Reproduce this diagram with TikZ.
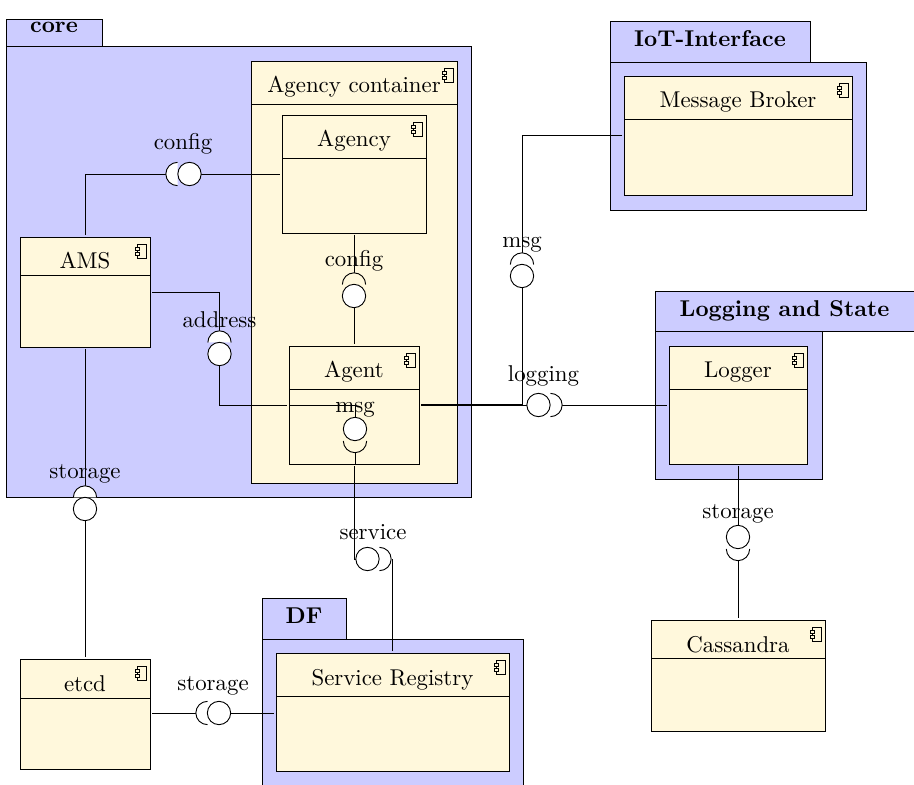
\documentclass[tikz,border=0pt]{standalone}
\definecolor{pkgfill}{HTML}{CCCCFF}
\definecolor{compfill}{HTML}{FFF8DC}
\tikzset{
  x=0.4375pt,y=-0.4375pt,
  boxbase/.style={draw,rectangle,inner sep=0pt,line width=0.4pt},
  pkgbox/.style={boxbase,fill=pkgfill,outer sep=0pt},
  compbox/.style={boxbase,fill=compfill,outer sep=0.875pt},
  sock/.style={circle,inner sep=0pt,minimum size=10.2pt,outer sep=0pt},
  lbl/.style={anchor=base,inner sep=0pt,font=\normalsize},
  tabtext/.style={anchor=base,inner sep=0pt,font=\bfseries},
  wire/.style={line width=0.4pt}
}
% box: style, name, x1, y1, x2, y2
\newcommand{\bx}[6]{%
  \pgfmathsetmacro{\bxw}{(#5-#3)*0.4375}%
  \pgfmathsetmacro{\bxh}{(#6-#4)*0.4375}%
  \node[#1,minimum width=\bxw pt,minimum height=\bxh pt] (#2) at ({(#3+#5)/2},{(#4+#6)/2}) {};%
}
% component: name, x1, y1, x2, y2, divider y, title
\newcommand{\comp}[7]{%
  \bx{compbox}{#1}{#2}{#3}{#4}{#5}%
  \draw[wire] (#2,#6) -- (#4,#6);%
  \node[lbl] (#1t) at ({(#2+#4)/2},#3+32) {#7};%
  \pgfmathsetmacro{\ix}{#4}\pgfmathsetmacro{\iy}{#3}%
  \draw[wire,fill=compfill] (\ix-13,\iy+7) rectangle (\ix-3.5,\iy+21);%
  \draw[wire,fill=compfill] (\ix-15,\iy+10) rectangle (\ix-11,\iy+13.5);%
  \draw[wire,fill=compfill] (\ix-15,\iy+15) rectangle (\ix-11,\iy+18.5);%
}
% socket: node name, start angle, end angle, fill
\newcommand{\sockarc}[4]{%
  \fill[#4] (#1.#2) arc (#2:#3:5.1pt) -- cycle;%
  \draw[wire] (#1.#2) arc (#2:#3:5.1pt);%
}
\begin{document}
\begin{tikzpicture}
\useasboundingbox (0,0) rectangle (914,785);
\clip (0,0) rectangle (914,785);
% packages
\bx{pkgbox}{coretab}{6}{19}{102}{46}
\bx{pkgbox}{core}{6}{46}{471}{497}
\node[tabtext] (coret) at (54,33) {core};
\bx{pkgbox}{iottab}{610}{21}{810}{62}
\bx{pkgbox}{iot}{610}{62}{866}{210}
\node[tabtext] (iott) at (710,47) {IoT-Interface};
\bx{pkgbox}{logtab}{655}{291}{914}{331}
\bx{pkgbox}{logpkg}{655}{331}{822}{479}
\node[tabtext] (logt) at (784.5,317) {Logging and State};
\bx{pkgbox}{dftab}{262}{598}{346}{639}
\bx{pkgbox}{dfpkg}{262}{639}{523}{800}
\node[tabtext] (dft) at (304,623) {DF};
% components
\comp{cont}{251}{61}{457}{483}{104}{Agency container}
\comp{agency}{282}{115}{426}{233}{158}{Agency}
\comp{ams}{20}{237}{150}{347}{275}{AMS}
\comp{agent}{289}{346}{419}{464}{389}{Agent}
\comp{broker}{624}{76}{852}{195}{119}{Message Broker}
\comp{logger}{669}{346}{807}{464}{389}{Logger}
\comp{cass}{651}{620}{825}{731}{658}{Cassandra}
\comp{reg}{276}{653}{509}{771}{696}{Service Registry}
\comp{etcd}{20}{659}{150}{769}{698}{etcd}
% lollipop positions
\node[sock] (s1) at (177.5,174) {};  \node[sock] (b1) at (189.5,174) {};
\node[sock] (s2) at (354,284.5) {};  \node[sock] (b2) at (354,296) {};
\node[sock] (s3) at (219.5,342.5) {};\node[sock] (b3) at (219.5,354) {};
\node[sock] (s4) at (522,264.5) {};  \node[sock] (b4) at (522,276) {};
\node[sock] (s5) at (355,441) {};    \node[sock] (b5) at (355,429) {};
\node[sock] (s6) at (550.5,405) {};  \node[sock] (b6) at (538.5,405) {};
\node[sock] (s7) at (85,497.5) {};   \node[sock] (b7) at (85,509) {};
\node[sock] (s8) at (379.5,559) {};  \node[sock] (b8) at (367.5,559) {};
\node[sock] (s9) at (207.5,713) {};  \node[sock] (b9) at (219,713) {};
\node[sock] (s10) at (738,549) {};   \node[sock] (b10) at (738,537) {};
\coordinate (agentinW) at (289,405);
\coordinate (agentinS) at (354,464);
% connectors
\draw[wire] (ams.north) |- (s1.west);
\draw[wire] (b1.east) -- (agency.west);
\draw[wire] (agency.south) -- (s2.north);
\draw[wire] (b2.south) -- (agent.north);
\draw[wire] (ams.east) -| (s3.north);
\draw[wire] (b3.south) |- (agent.west);
\draw[wire] (broker.west) -| (s4.north);
\draw[wire] (b4.south) |- ([yshift=0.3pt]agent.east);
\draw[wire] (agentinW) -| (b5.north);
\draw[wire] (s5.south) -- (s5.south |- agentinS);
\draw[wire] (agent.south) |- (b8.west);
\draw[wire] (reg.north) -- (reg.north |- s8.east);
\draw[wire] (agent.east) -- (b6.west);
\draw[wire] (s6.east) -- (logger.west);
\draw[wire] (ams.south) -- (s7.north);
\draw[wire] (b7.south) -- (etcd.north);
\draw[wire] (etcd.east |- s9.west) -- (s9.west);
\draw[wire] (b9.east) -- (b9.east -| reg.west);
\draw[wire] (logger.south) -- (b10.north);
\draw[wire] (s10.south) -- (cass.north);
% sockets
\sockarc{s1}{90}{270}{white}
\sockarc{s2}{180}{0}{compfill}
\sockarc{s3}{180}{0}{white}
\sockarc{s4}{180}{0}{white}
\sockarc{s5}{180}{360}{compfill}
\sockarc{s6}{90}{-90}{white}
\sockarc{s7}{180}{0}{white}
\sockarc{s8}{90}{-90}{white}
\sockarc{s9}{90}{270}{white}
\sockarc{s10}{180}{360}{white}
% balls
\foreach \b in {b1,b2,b3,b4,b5,b6,b7,b8,b9,b10}{
  \draw[wire,fill=white] (\b.center) circle [radius=5.1pt];
}
% labels
\node[lbl] (l1) at (183,150) {config};
\node[lbl] (l2) at (354,267) {config};
\node[lbl] (l3) at (219.5,328) {address};
\node[lbl] (l4) at (522,248) {msg};
\node[lbl] (l5) at (355,413) {msg};
\node[lbl] (l6) at (543.5,382) {logging};
\node[lbl] (l7) at (85,479) {storage};
\node[lbl] (l8) at (373,540) {service};
\node[lbl] (l9) at (213,690) {storage};
\node[lbl] (l10) at (738,519) {storage};
\end{tikzpicture}
\end{document}
